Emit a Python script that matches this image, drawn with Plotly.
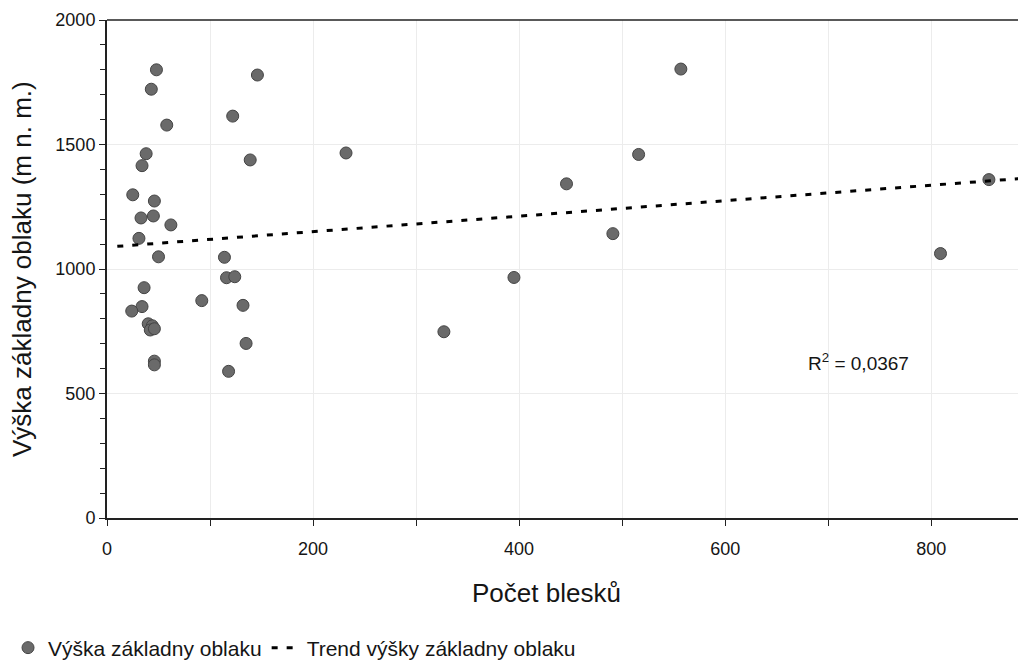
import plotly.graph_objects as go

# Data
pocet_blesku = [48, 43, 58, 146, 122, 38, 34, 139, 25, 46, 33, 45, 62, 31, 50, 114,
                116, 124, 36, 34, 24, 92, 132, 40, 44, 42, 46, 46, 46, 135, 118,
                232, 327, 395, 446, 491, 516, 557, 809, 856]
vyska_zakladny = [1800, 1722, 1578, 1779, 1614, 1463, 1415, 1438, 1298, 1273, 1205, 1213,
                  1177, 1123, 1049, 1047, 965, 969, 925, 849, 831, 873, 854, 780, 772,
                  755, 760, 630, 615, 701, 589,
                  1466, 748, 966, 1342, 1142, 1460, 1803, 1062, 1359]

trend_x = [10, 892]
trend_y = [1091, 1365]

r2_text = "R<sup>2</sup> = 0,0367"
r2_pos = (729, 626)

x_title = "Počet blesků"
y_title = "Výška základny oblaku (m n. m.)"
series_name = "Výška základny oblaku"
trend_name = "Trend výšky základny oblaku"

font_family = "Liberation Sans, Arial, sans-serif"
ink = "#151515"

fig = go.Figure()
fig.add_trace(go.Scatter(
    x=pocet_blesku, y=vyska_zakladny, mode="markers", name=series_name,
    marker=dict(size=12, color="#6a6a6a", line=dict(color="#444444", width=1)),
))
fig.add_trace(go.Scatter(
    x=trend_x, y=trend_y, mode="lines", name=trend_name,
    line=dict(color="black", width=3, dash="6px,9px"),
))

fig.add_annotation(x=r2_pos[0], y=r2_pos[1], text=r2_text, showarrow=False,
                   font=dict(size=19, color=ink, family=font_family))

# axis titles as annotations for precise placement
fig.add_annotation(xref="paper", yref="paper", x=(546 - 107) / 919, y=-0.1506,
                   text=x_title, showarrow=False, xanchor="center", yanchor="middle",
                   font=dict(size=26, color=ink, family=font_family))
fig.add_annotation(xref="paper", yref="paper", x=-0.0925, y=0.5, textangle=-90,
                   text=y_title, showarrow=False, xanchor="center", yanchor="middle",
                   font=dict(size=26, color=ink, family=font_family))

# top frame line
fig.add_shape(type="line", xref="paper", yref="paper", x0=0, x1=1, y0=1, y1=1,
              line=dict(color="#222222", width=1.5))

fig.update_layout(
    width=1018, height=690,
    margin=dict(l=99, r=0, t=12, b=180),
    paper_bgcolor="white", plot_bgcolor="white",
    font=dict(family=font_family, color=ink),
    showlegend=True,
    legend=dict(orientation="h", x=-0.1077, xanchor="left", y=-0.261, yanchor="middle",
                font=dict(size=21, color=ink), itemwidth=30,
                bgcolor="rgba(0,0,0,0)"),
)
fig.update_xaxes(
    range=[0, 892], tickvals=[0, 200, 400, 600, 800],
    showline=True, linecolor="#222222", linewidth=2,
    ticks="outside", ticklen=6, tickcolor="#222222", ticklabelstandoff=7,
    minor=dict(dtick=100, ticks="outside", ticklen=6, tickcolor="#222222",
               showgrid=True, gridcolor="#ececec"),
    showgrid=True, gridcolor="#ececec", zeroline=False,
    tickfont=dict(size=18),
)
fig.update_yaxes(
    range=[0, 2000], tickvals=[0, 500, 1000, 1500, 2000],
    showline=True, linecolor="#222222", linewidth=2,
    ticks="outside", ticklen=6, tickcolor="#222222",
    minor=dict(dtick=100, ticks="outside", ticklen=5, tickcolor="#222222", showgrid=False),
    showgrid=True, gridcolor="#ececec", zeroline=False,
    tickfont=dict(size=18),
)

fig.write_html("out.html",
               post_script="document.documentElement.style.overflow='hidden';"
                           "document.body.style.overflow='hidden';")
